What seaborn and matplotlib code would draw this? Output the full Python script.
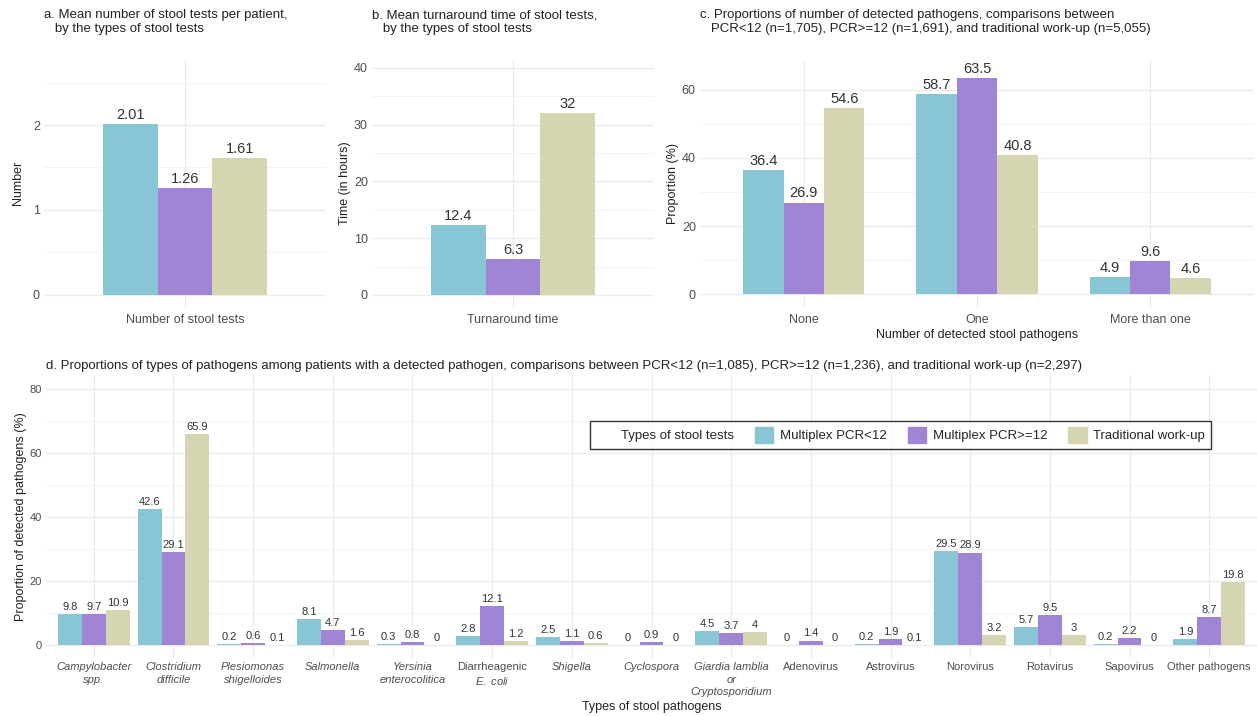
import pandas as pd
import numpy as np
import matplotlib
matplotlib.use('Agg')
import matplotlib.pyplot as plt
import seaborn as sns
from matplotlib.ticker import MultipleLocator
from matplotlib.patches import Rectangle

# Data
test_types = ['Multiplex PCR<12', 'Multiplex PCR>=12', 'Traditional work-up']
palette = ['#88C6D5', '#A084D6', '#D5D5B1']

n_tests = [2.01, 1.26, 1.61]
turnaround = [12.4, 6.3, 32]

n_detected_cats = ['None', 'One', 'More than one']
n_detected_pcr_lt12 = [36.4, 58.7, 4.9]
n_detected_pcr_ge12 = [26.9, 63.5, 9.6]
n_detected_trad = [54.6, 40.8, 4.6]

pathogens = ['Campylobacter\nspp.', 'Clostridium\ndifficile', 'Plesiomonas\nshigelloides',
             'Salmonella', 'Yersinia\nenterocolitica', 'Diarrheagenic\n$\\mathit{E.}$ $\\mathit{coli}$',
             'Shigella', 'Cyclospora', 'Giardia lamblia\nor\nCryptosporidium', 'Adenovirus',
             'Astrovirus', 'Norovirus', 'Rotavirus', 'Sapovirus', 'Other pathogens']
italic_idx = [0, 1, 2, 3, 4, 6, 7, 8]
path_pcr_lt12 = [9.8, 42.6, 0.2, 8.1, 0.3, 2.8, 2.5, 0, 4.5, 0, 0.2, 29.5, 5.7, 0.2, 1.9]
path_pcr_ge12 = [9.7, 29.1, 0.6, 4.7, 0.8, 12.1, 1.1, 0.9, 3.7, 1.4, 1.9, 28.9, 9.5, 2.2, 8.7]
path_trad = [10.9, 65.9, 0.1, 1.6, 0, 1.2, 0.6, 0, 4, 0, 0.1, 3.2, 3, 0, 19.8]

# Style
sns.set_theme(style='white')
plt.rcParams['font.family'] = ['Liberation Sans', 'DejaVu Sans']
plt.rcParams['mathtext.fontset'] = 'custom'
plt.rcParams['mathtext.it'] = 'Liberation Sans:italic'
plt.rcParams['mathtext.rm'] = 'Liberation Sans'

W, H = 1257, 716
fig = plt.figure(figsize=(W / 100, H / 100), dpi=100)


def px_axes(left, right, top, bottom):
    return fig.add_axes([left / W, 1 - bottom / H, (right - left) / W, (bottom - top) / H])


def long_df(cats, series):
    rows = []
    for t, vals in zip(test_types, series):
        for c, v in zip(cats, vals):
            rows.append({'cat': c, 'test': t, 'value': v})
    return pd.DataFrame(rows)


def style_ax(ax, ncat, ylim, major, label_size, lab_fs, xpad):
    ax.set_ylim(*ylim)
    ax.set_xlim(-0.6, ncat - 0.4)
    ax.yaxis.set_major_locator(MultipleLocator(major))
    ax.yaxis.set_minor_locator(MultipleLocator(major / 2))
    ax.grid(True, which='major', color='#EBEBEB', lw=0.9)
    ax.grid(True, which='minor', axis='y', color='#F2F2F2', lw=0.6)
    ax.set_axisbelow(True)
    for s in ax.spines.values():
        s.set_visible(False)
    ax.tick_params(length=0, colors='#4D4D4D', labelsize=label_size, pad=3)
    ax.tick_params(axis='x', pad=xpad)
    for cont in ax.containers:
        vals = [b.get_height() for b in cont]
        ax.bar_label(cont, labels=[f'{v:g}' for v in vals], padding=1.5,
                     fontsize=lab_fs, color='#333333')


def barpanel(ax, cats, series, width):
    df = long_df(cats, series)
    sns.barplot(data=df, x='cat', y='value', hue='test', hue_order=test_types,
                palette=palette, width=width, ax=ax, legend=False, saturation=1,
                errorbar=None, linewidth=0)


# a
ax_a = px_axes(44, 326, 60, 306)
barpanel(ax_a, ['Number of stool tests'], [[v] for v in n_tests], 0.7)
style_ax(ax_a, 1, (-0.13, 2.765), 1, 9, 10.5, 6)
ax_a.set_xlabel('')
ax_a.set_ylabel('Number', fontsize=9, color='#222222', labelpad=6)
ax_a.set_title('a. Mean number of stool tests per patient,\n   by the types of stool tests',
               loc='left', fontsize=9.5, pad=20, color='#222222')

# b
ax_b = px_axes(372, 654, 60, 306)
barpanel(ax_b, ['Turnaround time'], [[v] for v in turnaround], 0.7)
style_ax(ax_b, 1, (-1.94, 41.4), 10, 9, 10.5, 6)
ax_b.set_xlabel('')
ax_b.set_ylabel('Time (in hours)', fontsize=9, color='#222222', labelpad=2)
ax_b.set_title('b. Mean turnaround time of stool tests,\n   by the types of stool tests',
               loc='left', fontsize=9.5, pad=20, color='#222222')

# c
ax_c = px_axes(700, 1254, 60, 306)
barpanel(ax_c, n_detected_cats, [n_detected_pcr_lt12, n_detected_pcr_ge12, n_detected_trad], 0.7)
style_ax(ax_c, 3, (-3.5, 68.8), 20, 9, 10.5, 6)
ax_c.set_xlabel('Number of detected stool pathogens', fontsize=9, color='#222222', labelpad=2)
ax_c.set_ylabel('Proportion (%)', fontsize=9, color='#222222', labelpad=2)
ax_c.set_title('c. Proportions of number of detected pathogens, comparisons between\n'
               '   PCR<12 (n=1,705), PCR>=12 (n=1,691), and traditional work-up (n=5,055)',
               loc='left', fontsize=9.5, pad=20, color='#222222')

# d
ax_d = px_axes(46, 1257, 375, 658)
barpanel(ax_d, pathogens, [path_pcr_lt12, path_pcr_ge12, path_trad], 0.9)
style_ax(ax_d, len(pathogens), (-4.06, 84.4), 20, 8, 8, 3)
for i, t in enumerate(ax_d.get_xticklabels()):
    t.set_linespacing(1.3)
    if i in italic_idx:
        t.set_fontstyle('italic')
ax_d.set_xlabel('Types of stool pathogens', fontsize=9, color='#222222', labelpad=3)
ax_d.set_ylabel('Proportion of detected pathogens (%)', fontsize=9, color='#222222', labelpad=2)
ax_d.set_title('d. Proportions of types of pathogens among patients with a detected pathogen, '
               'comparisons between PCR<12 (n=1,085), PCR>=12 (n=1,236), and traditional work-up (n=2,297)',
               loc='left', fontsize=9.5, pad=4, color='#222222')

# legend
handles = [Rectangle((0, 0), 0, 0, alpha=0)] + [Rectangle((0, 0), 1, 1, color=c) for c in palette]
labels = ['Types of stool tests'] + test_types
leg = fig.legend(handles, labels, ncol=4, loc='upper right',
                 bbox_to_anchor=(1211 / W, 1 - 421 / H), bbox_transform=fig.transFigure,
                 fontsize=9.5, frameon=True, fancybox=False, edgecolor='black',
                 handlelength=1.4, handleheight=1.5, handletextpad=0.5, columnspacing=1.6,
                 borderpad=0.45, borderaxespad=0)
leg.get_frame().set_linewidth(1.0)

fig.savefig('out.png', dpi=100)
